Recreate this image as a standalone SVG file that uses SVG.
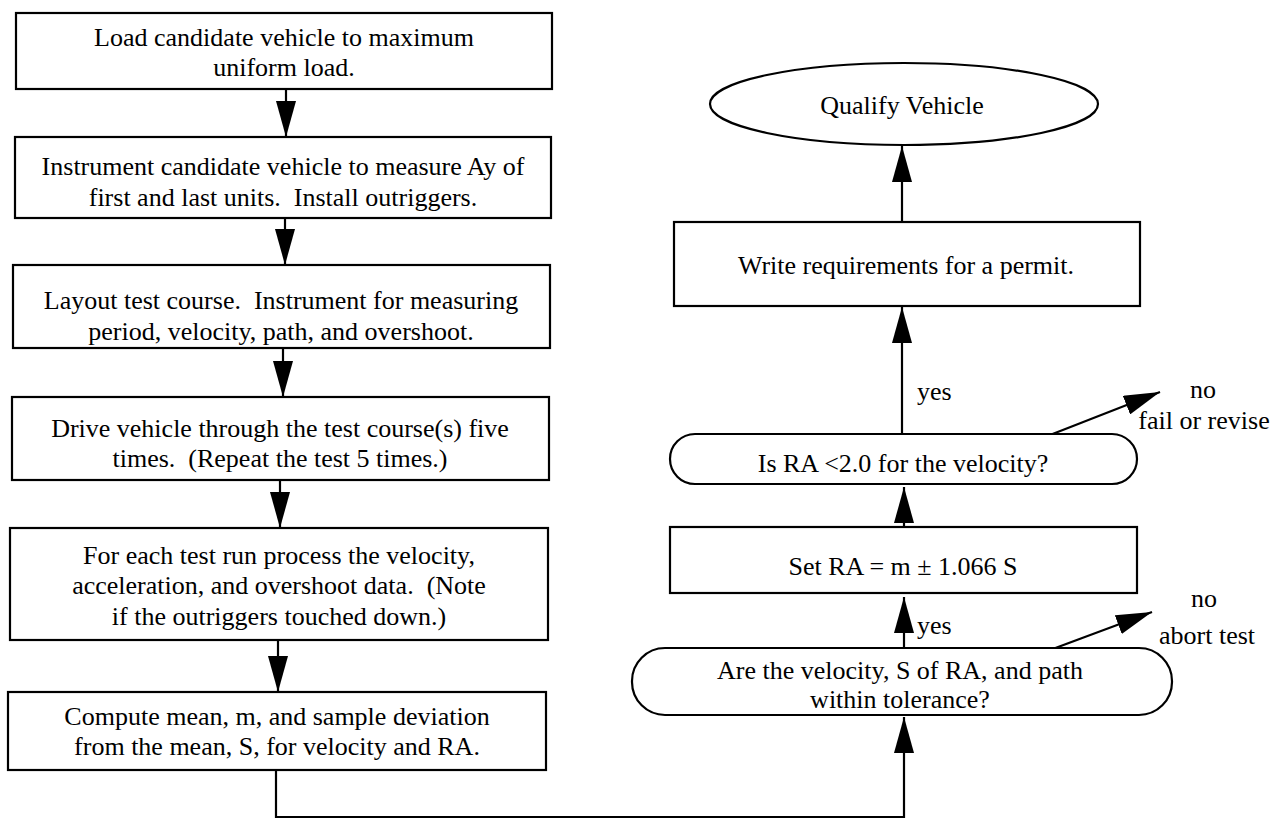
<svg xmlns="http://www.w3.org/2000/svg" width="1281" height="823" viewBox="0 0 1281 823">
<style>
.box{fill:#fff;stroke:#000;stroke-width:2.2}
.t{font-family:"Liberation Serif","Times New Roman",serif;font-size:26px;fill:#000;text-anchor:middle;white-space:pre}
.lbl{font-family:"Liberation Serif","Times New Roman",serif;font-size:26px;fill:#000}
.c{fill:none;stroke:#000;stroke-width:2.2}
</style>
<defs>
<marker id="ah" markerUnits="userSpaceOnUse" viewBox="0 0 36 20" refX="36" refY="10" markerWidth="36" markerHeight="20" orient="auto">
<path d="M0,0 L36,10 L0,20 z" fill="#000"/>
</marker>
</defs>
<rect width="1281" height="823" fill="#fff"/>
<g id="connectors">
<line class="c" x1="286" y1="89" x2="286" y2="137" marker-end="url(#ah)"/>
<line class="c" x1="285" y1="218" x2="285" y2="265" marker-end="url(#ah)"/>
<line class="c" x1="283" y1="348" x2="283" y2="397" marker-end="url(#ah)"/>
<line class="c" x1="280" y1="480" x2="280" y2="528" marker-end="url(#ah)"/>
<line class="c" x1="278" y1="640" x2="278" y2="692" marker-end="url(#ah)"/>
<polyline class="c" points="276,770 276,817 904,817 904,717" marker-end="url(#ah)"/>
<line class="c" x1="904" y1="648" x2="904" y2="597" marker-end="url(#ah)"/>
<line class="c" x1="904" y1="527" x2="904" y2="487" marker-end="url(#ah)"/>
<line class="c" x1="902" y1="434" x2="902" y2="307" marker-end="url(#ah)"/>
<line class="c" x1="902" y1="222" x2="902" y2="146" marker-end="url(#ah)"/>
<line class="c" x1="1050" y1="435" x2="1160" y2="392" marker-end="url(#ah)"/>
<line class="c" x1="1050" y1="650" x2="1152" y2="612" marker-end="url(#ah)"/>
<text class="lbl" x="917" y="400">yes</text>
<text class="lbl" x="917" y="634">yes</text>
<text class="t" x="1203" y="398">no</text>
<text class="t" x="1204" y="429">fail or revise</text>
<text class="t" x="1204" y="607">no</text>
<text class="t" x="1207" y="644">abort test</text>
</g>
<g id="n1">
<rect class="box" x="16" y="13" width="536" height="76"/>
<text class="t" x="284" y="46">Load candidate vehicle to maximum</text>
<text class="t" x="284" y="76">uniform load.</text>
</g>
<g id="n2">
<rect class="box" x="15" y="137" width="536" height="81"/>
<text class="t" x="283" y="175">Instrument candidate vehicle to measure Ay of</text>
<text class="t" x="283" y="206">first and last units.  Install outriggers.</text>
</g>
<g id="n3">
<rect class="box" x="13" y="265" width="537" height="83"/>
<text class="t" x="281" y="309">Layout test course.  Instrument for measuring</text>
<text class="t" x="281" y="340">period, velocity, path, and overshoot.</text>
</g>
<g id="n4">
<rect class="box" x="12" y="397" width="537" height="83"/>
<text class="t" x="280" y="437">Drive vehicle through the test course(s) five</text>
<text class="t" x="280" y="467">times.  (Repeat the test 5 times.)</text>
</g>
<g id="n5">
<rect class="box" x="10" y="528" width="538" height="112"/>
<text class="t" x="279" y="564">For each test run process the velocity,</text>
<text class="t" x="279" y="594">acceleration, and overshoot data.  (Note</text>
<text class="t" x="279" y="625">if the outriggers touched down.)</text>
</g>
<g id="n6">
<rect class="box" x="8" y="692" width="538" height="78"/>
<text class="t" x="277" y="725">Compute mean, m, and sample deviation</text>
<text class="t" x="277" y="755">from the mean, S, for velocity and RA.</text>
</g>
<g id="n7">
<ellipse class="box" cx="904" cy="104" rx="194" ry="41"/>
<text class="t" x="902" y="114">Qualify Vehicle</text>
</g>
<g id="n8">
<rect class="box" x="674" y="222" width="466" height="84"/>
<text class="t" x="906" y="274">Write requirements for a permit.</text>
</g>
<g id="n9">
<rect class="box" x="670" y="434" width="467" height="50" rx="25" ry="25"/>
<text class="t" x="903" y="472">Is RA &lt;2.0 for the velocity?</text>
</g>
<g id="n10">
<rect class="box" x="670" y="527" width="467" height="66"/>
<text class="t" x="903" y="575">Set RA = m ± 1.066 S</text>
</g>
<g id="n11">
<rect class="box" x="632" y="648" width="540" height="67" rx="33" ry="33"/>
<text class="t" x="900" y="679">Are the velocity, S of RA, and path</text>
<text class="t" x="900" y="708">within tolerance?</text>
</g>
</svg>
